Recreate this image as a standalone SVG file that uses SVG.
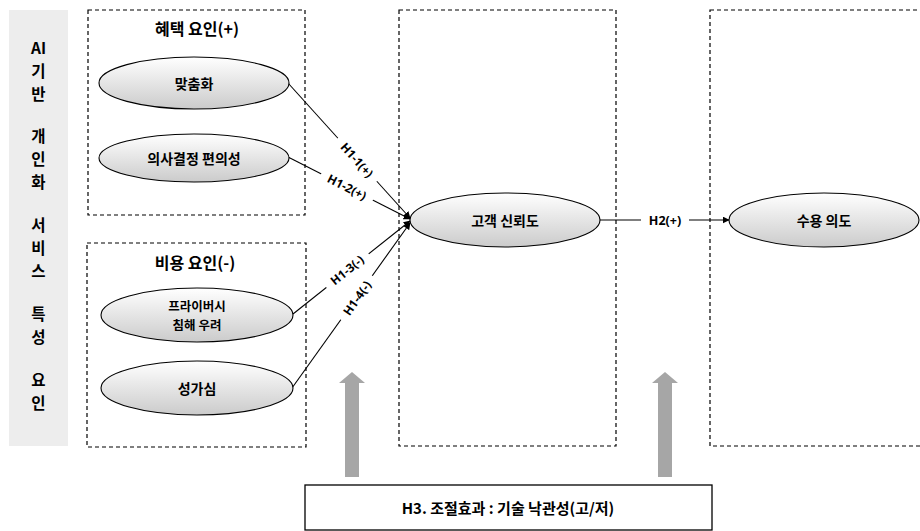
<svg xmlns="http://www.w3.org/2000/svg" width="920" height="531" viewBox="0 0 920 531">
<style>
.box{fill:none;stroke:#000;stroke-width:1.2;stroke-dasharray:4 3}
.ell{fill:url(#eg);stroke:#000;stroke-width:1.1}
.t{font-family:"Noto Sans CJK KR","Noto Sans",sans-serif;font-weight:bold;fill:#000;text-anchor:middle;dominant-baseline:central}
.side{font-size:15.5px}
.title{font-size:16px}
.nt{font-size:14px}
.lbl{font-family:"Open Sans","DejaVu Sans",sans-serif;font-weight:bold;font-size:12px;fill:#000;text-anchor:middle;dominant-baseline:central}
.con{stroke:#000;stroke-width:1.1;fill:none}
.gap{fill:#fff}
.garrow{fill:#a6a6a6}
</style>
<defs>
<linearGradient id="eg" x1="0" y1="0" x2="0" y2="1">
<stop offset="0" stop-color="#ffffff"/>
<stop offset="1" stop-color="#cbcbcb"/>
</linearGradient>
<marker id="ah" viewBox="0 0 10 10" refX="9" refY="5" markerWidth="7" markerHeight="7" markerUnits="userSpaceOnUse" orient="auto">
<path d="M0,0 L10,5 L0,10 z" fill="#000"/>
</marker>
</defs>

<g id="side-bar">
<rect x="9" y="10" width="59" height="436" fill="#ededed"/>
<text class="t side" x="38.5" y="47">AI</text>
<text class="t side" x="38.5" y="70">기</text>
<text class="t side" x="38.5" y="93">반</text>
<text class="t side" x="38.5" y="135">개</text>
<text class="t side" x="38.5" y="158">인</text>
<text class="t side" x="38.5" y="181">화</text>
<text class="t side" x="38.5" y="224">서</text>
<text class="t side" x="38.5" y="247">비</text>
<text class="t side" x="38.5" y="270">스</text>
<text class="t side" x="38.5" y="313">특</text>
<text class="t side" x="38.5" y="336">성</text>
<text class="t side" x="38.5" y="379">요</text>
<text class="t side" x="38.5" y="402">인</text>
</g>

<g id="benefit-group">
<rect class="box" x="88" y="10" width="217" height="205"/>
<text class="t title" x="197" y="28">혜택 요인(+)</text>
</g>
<g id="cost-group">
<rect class="box" x="87" y="243" width="219" height="204"/>
<text class="t title" x="195" y="262">비용 요인(-)</text>
</g>
<g id="trust-group">
<rect class="box" x="399" y="10" width="217" height="436"/>
</g>
<g id="intent-group">
<rect class="box" x="710" y="10" width="230" height="436"/>
</g>

<g id="connectors">
<line class="con" x1="288" y1="83" x2="410" y2="218" marker-end="url(#ah)"/>
<line class="con" x1="288" y1="157" x2="410" y2="219" marker-end="url(#ah)"/>
<line class="con" x1="293" y1="314" x2="410" y2="221" marker-end="url(#ah)"/>
<line class="con" x1="292" y1="388" x2="410" y2="223" marker-end="url(#ah)"/>
<line class="con" x1="600" y1="220" x2="729" y2="220" marker-end="url(#ah)"/>
<g transform="translate(357,160) rotate(48)">
<rect class="gap" x="-29" y="-8" width="58" height="16"/>
<text class="lbl" x="0" y="0">H1-1(+)</text>
</g>
<g transform="translate(347,187) rotate(27)">
<rect class="gap" x="-29" y="-8" width="58" height="16"/>
<text class="lbl" x="0" y="0">H1-2(+)</text>
</g>
<g transform="translate(347,270) rotate(-39)">
<rect class="gap" x="-27" y="-8" width="54" height="16"/>
<text class="lbl" x="0" y="0">H1-3(-)</text>
</g>
<g transform="translate(357,298) rotate(-55)">
<rect class="gap" x="-27" y="-8" width="54" height="16"/>
<text class="lbl" x="0" y="0">H1-4(-)</text>
</g>
<rect class="gap" x="641" y="211" width="48" height="18"/>
<text class="lbl" x="665" y="220" style="font-size:12.5px">H2(+)</text>
<path class="garrow" d="M345,477 L345,383 L339,383 L352,372 L365,383 L359,383 L359,477 Z"/>
<path class="garrow" d="M658,477 L658,383 L652,383 L665,372 L678,383 L672,383 L672,477 Z"/>
</g>

<g id="n-customize">
<ellipse class="ell" cx="194" cy="83" rx="95" ry="26"/>
<text class="t nt" x="194" y="83">맞춤화</text>
</g>
<g id="n-convenience">
<ellipse class="ell" cx="194" cy="158" rx="95" ry="24"/>
<text class="t nt" x="194" y="158">의사결정 편의성</text>
</g>
<g id="n-privacy">
<ellipse class="ell" cx="197" cy="315" rx="96" ry="27"/>
<text class="t" x="197" y="305.5" style="font-size:12.5px">프라이버시</text>
<text class="t" x="197" y="324.5" style="font-size:12.5px">침해 우려</text>
</g>
<g id="n-annoyance">
<ellipse class="ell" cx="197" cy="388" rx="96" ry="27"/>
<text class="t nt" x="197" y="388">성가심</text>
</g>
<g id="n-trust">
<ellipse class="ell" cx="505" cy="220" rx="95" ry="27"/>
<text class="t nt" x="505" y="220">고객 신뢰도</text>
</g>
<g id="n-intent">
<ellipse class="ell" cx="824" cy="220" rx="95" ry="27"/>
<text class="t nt" x="824" y="220">수용 의도</text>
</g>
<g id="n-moderator">
<rect x="305" y="485" width="407" height="45" fill="#fff" stroke="#000" stroke-width="1.3"/>
<text class="t" x="508" y="507" style="font-size:15px">H3. 조절효과 : 기술 낙관성(고/저)</text>
</g>
</svg>
